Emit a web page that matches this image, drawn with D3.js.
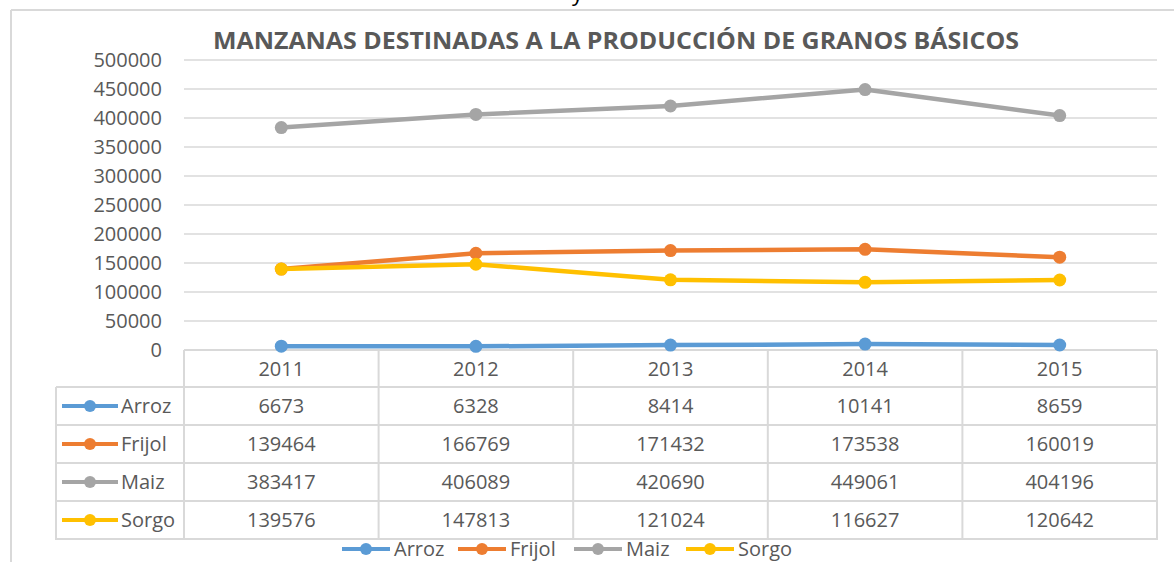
<!DOCTYPE html>
<html>
<head>
<meta charset="utf-8">
<script src="https://cdn.jsdelivr.net/npm/d3@7"></script>
<style>
  body { margin: 0; background: #fff; }
  text { font-family: 'Open Sans', 'Noto Sans', sans-serif; fill: #595959; }
</style>
</head>
<body>
<div id="chart"></div>
<script>
// data
var years = ['2011', '2012', '2013', '2014', '2015'];
var seriesNames = ['Arroz', 'Frijol', 'Maiz', 'Sorgo'];
var arroz = [6673, 6328, 8414, 10141, 8659];
var frijol = [139464, 166769, 171432, 173538, 160019];
var maiz = [383417, 406089, 420690, 449061, 404196];
var sorgo = [139576, 147813, 121024, 116627, 120642];
var yTicks = [0, 50000, 100000, 150000, 200000, 250000, 300000, 350000, 400000, 450000, 500000];
var colors = ['#5b9bd5', '#ed7d31', '#a5a5a5', '#ffc000'];
var titleText = 'MANZANAS DESTINADAS A LA PRODUCCIÓN DE GRANOS BÁSICOS';

var values = [arroz, frijol, maiz, sorgo];

var W = 1174, H = 562;
var plotLeft = 184, plotRight = 1157, plotTop = 60, plotBottom = 350;
var rowH = 38, legendLeft = 56;

var svg = d3.select('#chart').append('svg')
  .attr('width', W)
  .attr('height', H);

// frame
svg.append('line').attr('x1', 11).attr('x2', W).attr('y1', 10).attr('y2', 10)
  .style('stroke', '#d9d9d9').style('stroke-width', 2);
svg.append('line').attr('x1', 11).attr('x2', 11).attr('y1', 10).attr('y2', H)
  .style('stroke', '#d9d9d9').style('stroke-width', 2);

// clipped text from above
svg.append('text').attr('x', 572).attr('y', 1).style('fill', '#000')
  .style('font-size', '22px').text('y');

var x = d3.scaleBand().domain(years).range([plotLeft, plotRight]);
var y = d3.scaleLinear().domain([0, 500000]).range([plotBottom, plotTop]);

// gridlines
svg.append('g').selectAll('line').data(yTicks.slice(1)).enter().append('line')
  .attr('x1', plotLeft).attr('x2', plotRight)
  .attr('y1', function(d) { return y(d); })
  .attr('y2', function(d) { return y(d); })
  .style('stroke', '#d9d9d9').style('stroke-width', 1.5);

// y labels
svg.append('g').selectAll('text').data(yTicks).enter().append('text')
  .attr('x', 162)
  .attr('y', function(d) { return y(d); })
  .attr('dy', '0.35em')
  .attr('text-anchor', 'end')
  .style('font-size', '20px')
  .text(String);

// title
svg.append('text')
  .attr('x', 616).attr('y', 49)
  .attr('text-anchor', 'middle')
  .attr('textLength', 806)
  .attr('lengthAdjust', 'spacingAndGlyphs')
  .style('font-size', '24px').style('font-weight', 'bold')
  .text(titleText);

// data table
var tableBottom = plotBottom + rowH * (seriesNames.length + 1);
var grid = svg.append('g').style('stroke', '#d9d9d9').style('stroke-width', 2);
// horizontal lines
grid.append('line').attr('x1', plotLeft).attr('x2', plotRight).attr('y1', plotBottom).attr('y2', plotBottom);
d3.range(1, seriesNames.length + 2).forEach(function(i) {
  grid.append('line').attr('x1', legendLeft).attr('x2', plotRight)
    .attr('y1', plotBottom + i * rowH - 1).attr('y2', plotBottom + i * rowH - 1);
});
// vertical lines
years.forEach(function(d) {
  grid.append('line').attr('x1', x(d)).attr('x2', x(d)).attr('y1', plotBottom).attr('y2', tableBottom);
});
grid.append('line').attr('x1', plotRight).attr('x2', plotRight).attr('y1', plotBottom).attr('y2', tableBottom);
grid.append('line').attr('x1', legendLeft).attr('x2', legendLeft).attr('y1', plotBottom + rowH - 1).attr('y2', tableBottom);

// header years
svg.append('g').selectAll('text').data(years).enter().append('text')
  .attr('x', function(d) { return x(d) + x.bandwidth() / 2; })
  .attr('y', plotBottom + rowH / 2)
  .attr('dy', '0.35em')
  .attr('text-anchor', 'middle')
  .style('font-size', '20px')
  .text(String);

// rows
seriesNames.forEach(function(name, s) {
  var cy = plotBottom + rowH * (s + 1) + rowH / 2 - 1;
  var row = svg.append('g');
  row.append('line').attr('x1', 62).attr('x2', 118).attr('y1', cy).attr('y2', cy)
    .style('stroke', colors[s]).style('stroke-width', 4);
  row.append('circle').attr('cx', 90).attr('cy', cy).attr('r', 6).style('fill', colors[s]);
  row.append('text').attr('x', 121).attr('y', cy).attr('dy', '0.35em')
    .style('font-size', '20px').text(name);
  row.selectAll('.val').data(values[s]).enter().append('text')
    .attr('class', 'val')
    .attr('x', function(d, i) { return x(years[i]) + x.bandwidth() / 2; })
    .attr('y', cy).attr('dy', '0.35em')
    .attr('text-anchor', 'middle')
    .style('font-size', '20px')
    .text(String);
});

// lines
var line = d3.line()
  .x(function(d, i) { return x(years[i]) + x.bandwidth() / 2; })
  .y(function(d) { return y(d); });

values.forEach(function(vals, s) {
  var g = svg.append('g');
  g.append('path').attr('d', line(vals))
    .style('fill', 'none').style('stroke', colors[s]).style('stroke-width', 4.5)
    .style('stroke-linejoin', 'round');
  g.selectAll('circle').data(vals).enter().append('circle')
    .attr('cx', function(d, i) { return x(years[i]) + x.bandwidth() / 2; })
    .attr('cy', function(d) { return y(d); })
    .attr('r', 6.5)
    .style('fill', colors[s]);
});

// legend
var legendX = [342, 458, 574, 686];
var legend = svg.append('g').selectAll('g').data(seriesNames).enter().append('g')
  .attr('transform', function(d, i) { return 'translate(' + legendX[i] + ',549)'; });
legend.append('line').attr('x1', 0).attr('x2', 48)
  .style('stroke', function(d, i) { return colors[i]; }).style('stroke-width', 4);
legend.append('circle').attr('cx', 24).attr('r', 6)
  .style('fill', function(d, i) { return colors[i]; });
legend.append('text').attr('x', 52).attr('dy', '0.35em')
  .style('font-size', '20px').text(String);
</script>
</body>
</html>
